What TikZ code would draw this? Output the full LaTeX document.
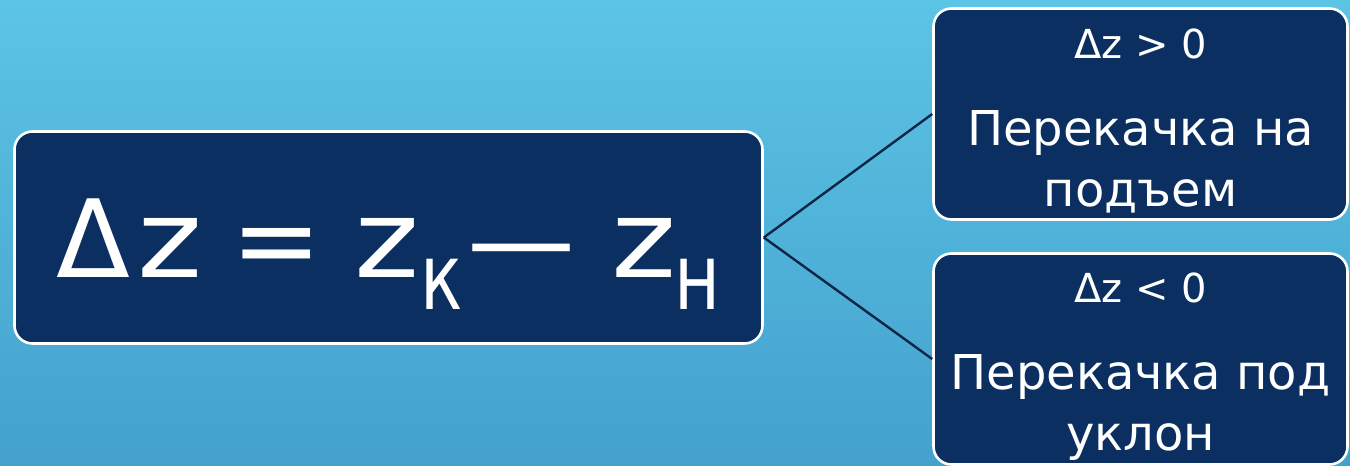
\documentclass[tikz,border=0pt]{standalone}
\usepackage{fontspec}
\usepackage{graphicx}
\setmainfont{DejaVu Sans}
\newfontfamily\condfont{DejaVu Sans Condensed}
\usetikzlibrary{positioning}

\definecolor{bgtop}{RGB}{92,196,228}
\definecolor{bgbot}{RGB}{68,161,206}
\definecolor{boxfill}{RGB}{10,47,96}
\definecolor{linkcol}{RGB}{12,38,70}

% lowered, narrow index letter
\newcommand{\subidx}[1]{\raisebox{-0.3em}{\scalebox{0.85}[1]{\condfont\fontsize{92}{92}\selectfont #1}}}
% slightly widened variable letter
\newcommand{\wz}{\scalebox{1.15}[1]{z}}

\tikzset{
  panel/.style={draw=white, line width=2.6pt, fill=boxfill, rounded corners=18pt,
    text=white, align=center, inner sep=0pt},
  smallpanel/.style={panel, minimum width=414pt, minimum height=211pt,
    font=\fontsize{48}{61}\selectfont},
  link/.style={draw=linkcol, line width=2.4pt},
}

\begin{document}
\begin{tikzpicture}[x=1pt, y=-1pt]
  % background gradient
  \shade[top color=bgtop, bottom color=bgbot] (0,0) rectangle (1350,466);
  \useasboundingbox (0,0) rectangle (1350,466);

  % main formula box
  \node[panel, minimum width=748pt, minimum height=212pt,
        text height=79pt, text depth=0pt] (main) at (388.5,237.5)
    {\fontsize{108}{108}\selectfont
     Δ\hspace{7pt}\wz\hspace{29pt}=\hspace{33pt}\wz\subidx{к}\hspace{5pt}—\hspace{36pt}\wz\hspace{-2pt}\subidx{н}};

  % outcome boxes
  \node[smallpanel] (up) at (1140.5,114)
    {{\fontsize{40}{40}\selectfont\rule{0pt}{44pt}Δz > 0}\\[26pt]
     Перекачка на\\подъем};
  \node[smallpanel] (down) at (1140.5,359)
    {{\fontsize{40}{40}\selectfont\rule{0pt}{44pt}Δz < 0}\\[26pt]
     Перекачка под\\уклон};

  % connectors
  \draw[link] (main.east) -- (up.west);
  \draw[link] (main.east) -- (down.west);
\end{tikzpicture}
\end{document}
